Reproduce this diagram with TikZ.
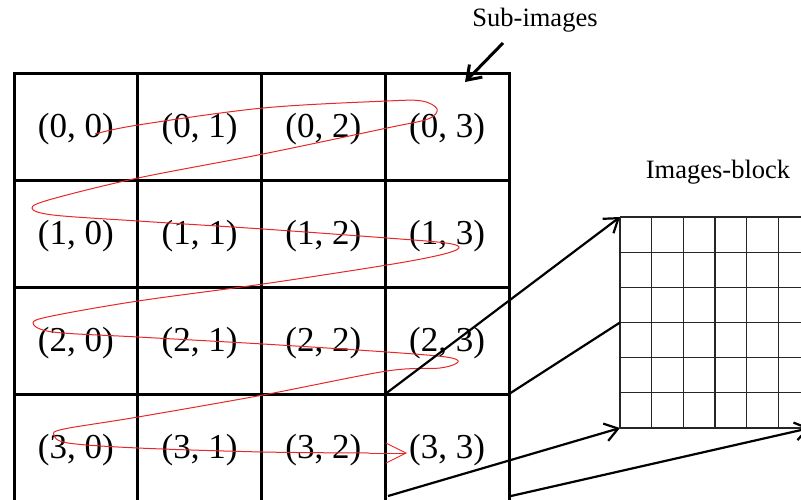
\documentclass[tikz,border=0pt]{standalone}
\usepackage{fontspec}
\setmainfont{Liberation Serif}
\usetikzlibrary{arrows.meta}
\definecolor{scanred}{RGB}{232,40,40}
\tikzset{
  cell/.style={draw=black, line width=3pt, minimum width=123.75pt, minimum height=107pt,
    inner sep=0pt, outer sep=0pt, text height=28pt, text depth=6pt,
    font=\fontsize{35}{40}\selectfont},
  blockgrid/.style={draw=black!85, line width=1.3pt},
  conn/.style={draw=black, line width=2.2pt, -{Straight Barb[length=13pt,width=18pt]}},
  plainconn/.style={draw=black, line width=2.2pt},
  lbl/.style={font=\fontsize{26.5}{30}\selectfont, inner sep=0pt},
  scan/.style={draw=scanred, line width=1pt},
  scantip/.style={draw=scanred, line width=1pt, -{Straight Barb[length=20pt,width=20pt,line width=0.9pt]}}
}
\begin{document}
\begin{tikzpicture}[x=1pt,y=-1pt]
\useasboundingbox (0,0) rectangle (801,499);
\clip (0,0) rectangle (801,499);
\fill[white] (0,0) rectangle (801,499);
% main grid of sub-images
\foreach \i in {0,...,3}{
  \foreach \j in {0,...,3}{
    \node[cell] (c-\i-\j) at ({14+123.75*(\j+0.5)},{73+107*(\i+0.5)}) {(\i, \j)};
  }
}
% images block
\node[minimum width=190pt, minimum height=211pt, inner sep=0pt, outer sep=0pt] (blk) at (715,322.5) {};
\foreach \k in {0,...,6}{
  \draw[blockgrid] ({620+190/6*\k},217) -- ({620+190/6*\k},428);
  \draw[blockgrid] (620,{217+211/6*\k}) -- (810,{217+211/6*\k});
}
% labels
\node[lbl] (sub) at (535,20) {Sub-images};
\node[lbl] (ib) at (718,172) {Images-block};
\coordinate (subtail) at (503,43);
\coordinate (subtip) at (465,82);
\draw[conn, line width=3pt] (subtail) -- (subtip);
% scan path
\draw[scan] plot[smooth, tension=0.55] coordinates {
  (95,134) (138,125) (263,108) (387,101) (422,101) (437,109) (428,119) (387,128)
  (263,154) (138,178) (52,199) (32,208) (53,215) (138,221) (263,229) (387,238)
  (446,243) (459,248) (440,255) (387,265) (263,284) (138,301) (52,316) (33,323)
  (53,332) (138,337) (263,344) (387,352) (446,357) (458,362) (440,368) (387,371)
  (263,395) (138,417) (64,429) (54,435) (68,443) (138,448) (263,452) (370,453)};
\coordinate (scanlast) at (370,453);
\coordinate (scanend) at (407,453);
\draw[scantip] (scanlast) -- (scanend);
% connectors to block
\coordinate (s3) at (388,496);
\coordinate (s4) at (511,496);
\draw[conn] (c-2-3.south west) -- (blk.north west);
\draw[plainconn] (c-2-3.south east) -- (blk.west);
\draw[conn] (s3) -- (blk.south west);
\draw[conn] (s4) -- (blk.south east);
\end{tikzpicture}
\end{document}
